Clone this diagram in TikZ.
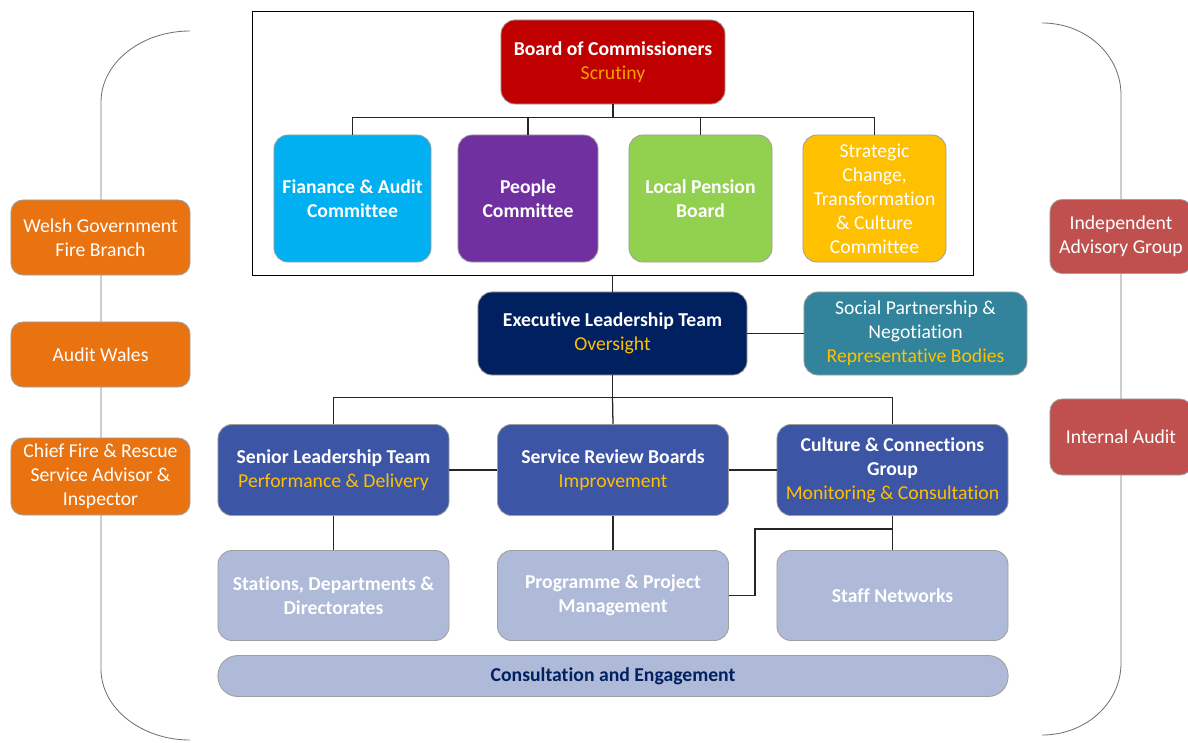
\documentclass[tikz,border=0pt]{standalone}
\usepackage{fontspec}
\setmainfont{Carlito}[Ligatures=CommonOff]
\usetikzlibrary{positioning}

\definecolor{boardred}{HTML}{C00000}
\definecolor{finblue}{HTML}{00B0F0}
\definecolor{peoplepurple}{HTML}{7030A0}
\definecolor{pensiongreen}{HTML}{92D050}
\definecolor{stratgold}{HTML}{FFC000}
\definecolor{execnavy}{HTML}{002060}
\definecolor{socialteal}{HTML}{31849B}
\definecolor{teamblue}{HTML}{3C55A4}
\definecolor{unitlilac}{HTML}{AFBAD9}
\definecolor{extorange}{HTML}{E97311}
\definecolor{extred}{HTML}{C0504D}
\definecolor{subgold}{HTML}{FFC000}
\definecolor{scrutinygold}{HTML}{F5A000}

\begin{document}
\begin{tikzpicture}[x=0.025cm,y=-0.025cm,
  box/.style={draw=gray!75,line width=0.6pt,rounded corners=0.35cm,align=center,text=white,inner sep=0pt,
    font=\fontsize{14}{17}\selectfont},
  sidebox/.style={box,rounded corners=0.3cm,minimum width=4.475cm},
  link/.style={line width=0.9pt,black!85},
  bracket/.style={line width=0.6pt,gray!90!black}]
\useasboundingbox (0,0) rectangle (1188,742);

% outer brackets
\draw[bracket] (190,31) .. controls (141,31) and (101,63) .. (101,102) -- (101,669)
  .. controls (101,708) and (141,740) .. (190,740);
\draw[bracket] (1042,23) .. controls (1086,23) and (1121,55) .. (1121,95) -- (1121,663)
  .. controls (1121,703) and (1086,735) .. (1042,735);

% governance frame
\node[draw,line width=0.7pt,minimum width=18cm,minimum height=6.575cm] (frame) at (613,143.5) {};
\node[box,fill=boardred,minimum width=5.6cm,minimum height=2.1cm] (board) at (613,62)
  {\textbf{Board of Commissioners}\\\textcolor{scrutinygold}{Scrutiny}};
\node[box,fill=finblue,minimum width=3.925cm,minimum height=3.175cm] (finance) at (352.5,198.5)
  {\textbf{Fianance \& Audit}\\\textbf{Committee}};
\node[box,fill=peoplepurple,minimum width=3.5cm,minimum height=3.175cm] (people) at (528,198.5)
  {\textbf{People}\\\textbf{Committee}};
\node[box,fill=pensiongreen,minimum width=3.575cm,minimum height=3.175cm] (pension) at (700.5,198.5)
  {\textbf{Local Pension}\\\textbf{Board}};
\node[box,fill=stratgold,minimum width=3.575cm,minimum height=3.175cm] (strategic) at (874.5,198.5)
  {Strategic\\Change,\\Transformation\\\& Culture\\Committee};

% leadership
\node[box,fill=execnavy,minimum width=6.725cm,minimum height=2.075cm] (exec) at (612.5,333.5)
  {\textbf{Executive Leadership Team}\\\textcolor{subgold}{Oversight}};
\node[box,fill=socialteal,minimum width=5.575cm,minimum height=2.075cm] (social) at (915.5,333.5)
  {Social Partnership \&\\Negotiation\\\textcolor{subgold}{Representative Bodies}};
\node[box,fill=teamblue,minimum width=5.775cm,minimum height=2.275cm] (senior) at (333.5,470)
  {\textbf{Senior Leadership Team}\\\textcolor{subgold}{Performance \& Delivery}};
\node[box,fill=teamblue,minimum width=5.775cm,minimum height=2.275cm] (review) at (613,470)
  {\textbf{Service Review Boards}\\\textcolor{subgold}{Improvement}};
\node[box,fill=teamblue,minimum width=5.775cm,minimum height=2.275cm] (culture) at (892.5,470)
  {\textbf{Culture \& Connections}\\\textbf{Group}\\\textcolor{subgold}{Monitoring \& Consultation}};

% delivery
\node[box,fill=unitlilac,minimum width=5.775cm,minimum height=2.25cm] (stations) at (333.5,595.5)
  {\textbf{Stations, Departments \&}\\\textbf{Directorates}};
\node[box,fill=unitlilac,minimum width=5.775cm,minimum height=2.25cm] (programme) at (613,595.5)
  {\textbf{Programme \& Project}\\\textbf{Management}};
\node[box,fill=unitlilac,minimum width=5.775cm,minimum height=2.25cm] (staff) at (892.5,595.5)
  {\textbf{Staff Networks}};
\node[box,fill=unitlilac,rounded corners=0.5cm,text=execnavy,minimum width=19.75cm,minimum height=1.025cm] (consult) at (613,676)
  {\textbf{Consultation and Engagement}};

% external bodies
\node[sidebox,fill=extorange,minimum height=1.875cm] (welsh) at (100.5,237.5) {Welsh Government\\Fire Branch};
\node[sidebox,fill=extorange,minimum height=1.625cm] (auditwales) at (100.5,354.5) {Audit Wales};
\node[sidebox,fill=extorange,minimum height=1.925cm] (chief) at (100.5,476.5) {Chief Fire \& Rescue\\Service Advisor \&\\Inspector};
\node[sidebox,fill=extred,minimum width=3.55cm,minimum height=1.85cm] (advisory) at (1121,236.5) {Independent\\Advisory Group};
\node[sidebox,fill=extred,minimum width=3.55cm,minimum height=1.9cm] (internal) at (1121,437) {Internal Audit};

% connectors
\draw[link] (board.south) -- ++(0,13) coordinate (bj);
\draw[link] (bj) -| (finance.north);
\draw[link] (bj) -| (people.north);
\draw[link] (bj) -| (pension.north);
\draw[link] (bj) -| (strategic.north);
\draw[link] (exec.north) -- (exec.north |- frame.south);
\draw[link] (exec) -- (social);
\draw[link] (exec.south) -- ++(0,22) coordinate (ej);
\draw[link] (ej) -| (senior.north);
\draw[link] (ej) -- (review.north);
\draw[link] (ej) -| (culture.north);
\draw[link] (senior) -- (review);
\draw[link] (review) -- (culture);
\draw[link] (senior.south) -- (stations.north);
\draw[link] (review.south) -- (programme.north);
\draw[link] (culture.south) -- (staff.north);
\coordinate (kink) at (755,529);
\draw[link] (culture.south |- kink) -- (kink) |- (programme.east);
\end{tikzpicture}
\end{document}
